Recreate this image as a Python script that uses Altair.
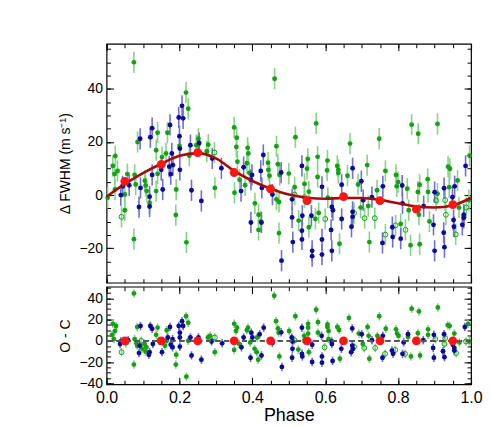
import altair as alt
import pandas as pd

FONT = "Liberation Sans"

# ---------------- top panel: Delta FWHM vs phase ----------------
top_green = [
    (0.003, -1.0), (0.017, 11.0), (0.024, 14.7), (0.030, 9.1), (0.022, 7.9), (0.023, 2.1),
    (0.057, 7.9), (0.077, 7.6), (0.080, 4.0), (0.050, 0.2), (0.050, -5.7), (0.075, 50.0),
    (0.075, -16.6), (0.085, 20.0), (0.105, 5.4), (0.107, 3.6), (0.110, 1.5), (0.118, -3.0),
    (0.136, 16.9), (0.140, 23.5), (0.136, 1.5), (0.140, 8.0), (0.152, 14.3), (0.163, 15.7),
    (0.167, 23.5), (0.191, 2.1), (0.190, -7.5), (0.200, 18.5), (0.218, 38.6), (0.224, 32.5),
    (0.219, -17.8), (0.227, 14.8), (0.246, 18.8), (0.252, 21.2), (0.251, 18.8), (0.279, 19.0),
    (0.275, 16.5), (0.297, 2.7), (0.350, 25.5), (0.357, 21.6), (0.356, 18.1), (0.359, 12.6),
    (0.351, 0.9), (0.365, 5.8), (0.380, 3.7), (0.387, 17.8), (0.389, 15.7), (0.385, 12.0),
    (0.392, 8.3), (0.407, -3.1), (0.417, -7.4), (0.417, -13.1), (0.423, -10.0), (0.443, 12.2),
    (0.444, 9.5), (0.447, 7.3), (0.461, 43.8), (0.466, 18.4), (0.470, 11.6), (0.475, 7.6),
    (0.466, -1.6), (0.473, -2.6), (0.473, -14.3), (0.500, 8.1), (0.516, 3.0), (0.518, 21.8),
    (0.527, -9.6), (0.543, 4.2), (0.550, 9.9), (0.552, 13.6), (0.555, 1.3), (0.555, -12.1),
    (0.573, -9.0), (0.575, 27.0), (0.579, 14.4), (0.579, 6.8), (0.582, -6.7), (0.605, 9.3),
    (0.606, 13.0), (0.607, -1.0), (0.633, 11.0), (0.636, 9.5), (0.636, 8.3), (0.639, -18.3),
    (0.661, 7.3), (0.668, 19.4), (0.690, 4.0), (0.697, -4.7), (0.715, 11.3), (0.718, -4.1),
    (0.721, -17.7), (0.742, 1.8), (0.748, 21.2), (0.765, 9.1), (0.794, 7.6), (0.800, 4.9),
    (0.796, 3.3), (0.807, -10.9), (0.825, 2.4), (0.829, -5.7), (0.834, -18.9), (0.837, 26.5),
    (0.855, 23.1), (0.859, 3.9), (0.854, 1.2), (0.857, -7.4), (0.859, -18.5), (0.881, 6.0),
    (0.882, 1.2), (0.886, -9.9), (0.908, 26.8), (0.908, 0.5), (0.937, 10.7), (0.942, 9.9),
    (0.940, 3.0), (0.963, 5.5), (0.967, -4.7), (0.996, 14.8), (0.994, -1.9),
]
top_open = [
    (0.041, -8.2), (0.296, 16.0), (0.516, 0.2), (0.543, -0.8), (0.600, -9.0), (0.679, -6.8),
    (0.708, -8.7), (0.736, -8.7), (0.765, -14.9), (0.793, -11.4), (0.820, -13.1), (0.904, -2.0),
    (0.929, -1.9), (0.931, -7.4), (0.958, -14.8), (0.987, -4.7),
]
top_blue = [
    (0.039, 0.0), (0.044, 3.3), (0.062, 3.7), (0.092, 21.2), (0.089, -4.5), (0.093, 2.7),
    (0.120, 21.8), (0.125, 25.2), (0.118, -0.6), (0.118, -4.3), (0.125, 7.6), (0.154, 2.1),
    (0.150, 9.5), (0.172, 10.7), (0.174, 26.4), (0.179, 15.7), (0.176, 7.9), (0.182, 11.3),
    (0.198, 29.2), (0.207, 33.6), (0.210, 28.9), (0.200, 22.2), (0.201, 17.5), (0.201, 9.5),
    (0.233, 1.8), (0.230, 18.8), (0.254, 19.6), (0.260, -2.2), (0.290, 13.8), (0.315, 10.1),
    (0.376, 10.5), (0.396, 5.8), (0.399, 7.6), (0.369, 1.5), (0.396, -10.3), (0.425, -10.3),
    (0.430, 15.1), (0.423, 9.1), (0.426, 2.7), (0.455, 0.2), (0.479, 8.5), (0.480, -24.7),
    (0.509, -1.6), (0.509, -8.4), (0.511, -17.7), (0.536, 11.0), (0.537, -7.8), (0.536, -13.4),
    (0.536, -16.7), (0.562, -7.8), (0.564, -21.0), (0.564, -23.0), (0.591, 3.1), (0.591, -16.7),
    (0.591, -22.4), (0.618, -4.5), (0.621, -5.7), (0.616, -13.1), (0.618, -21.0), (0.645, 3.9),
    (0.645, -9.0), (0.675, 10.1), (0.675, -6.3), (0.675, -8.2), (0.672, -11.9), (0.699, 5.2),
    (0.704, -1.9), (0.728, -0.8), (0.758, 3.3), (0.757, -18.0), (0.784, -12.1), (0.785, -15.8),
    (0.807, -16.4), (0.811, 3.6), (0.812, -3.1), (0.870, -4.2), (0.900, 1.1), (0.897, -11.2),
    (0.900, -21.0), (0.925, -14.2), (0.926, 2.6), (0.927, -19.6), (0.952, -9.4), (0.953, -11.9),
    (0.955, 3.3), (0.949, -0.8), (0.976, -11.2), (0.980, -7.4), (0.980, -8.6), (0.985, 11.0),
]
bin_phase = [0.05, 0.15, 0.25, 0.35, 0.45, 0.55, 0.65, 0.75, 0.85, 0.95]
bin_val = [5.2, 11.6, 16.0, 8.5, 2.3, -2.1, -0.6, -2.1, -5.3, -3.6]
bin_res = [0, 0, 0, 0, 0, 0, 0, 0, 0, 0]
model_phase = [0.0, 0.05, 0.10, 0.15, 0.20, 0.25, 0.30, 0.35, 0.40, 0.45, 0.50,
               0.55, 0.60, 0.65, 0.70, 0.75, 0.80, 0.85, 0.90, 0.95, 1.0]
model_val = [-0.6, 4.2, 8.3, 11.8, 14.8, 15.8, 13.8, 9.1, 5.3, 2.4, 0.2,
             -1.0, -1.4, -1.1, -1.1, -1.8, -3.1, -4.3, -4.7, -3.9, -1.0]

# ---------------- bottom panel: O - C residuals ----------------
res_green = [
    (0.075, 44.7), (0.017, 16.0), (0.026, 13.9), (0.023, 9.3), (0.015, 5.6), (0.020, 1.6),
    (0.053, -2.4), (0.075, -22.4), (0.077, 1.6), (0.082, -2.4), (0.084, 13.0), (0.084, -4.6),
    (0.098, -7.6), (0.104, -3.0), (0.109, -6.1), (0.107, -10.1), (0.136, 5.6), (0.140, 12.4),
    (0.143, 0.0), (0.165, 0.0), (0.160, -4.6), (0.165, 9.9), (0.191, -13.2), (0.190, -22.4),
    (0.218, 23.1), (0.224, 17.0), (0.219, -33.8), (0.224, 0.0), (0.278, 3.1), (0.284, 4.7),
    (0.297, -10.7), (0.460, 42.5), (0.350, 16.0), (0.358, 12.4), (0.355, 9.3), (0.350, -8.6),
    (0.364, -3.0), (0.385, 9.9), (0.388, 12.4), (0.394, -1.5), (0.406, -7.6), (0.412, -10.7),
    (0.416, -17.8), (0.413, 3.1), (0.465, 18.5), (0.470, 11.7), (0.472, 7.7), (0.474, -14.7),
    (0.501, 9.3), (0.518, 23.1), (0.526, -8.3), (0.542, 4.7), (0.553, 16.0), (0.553, 12.4),
    (0.553, 6.8), (0.555, -10.7), (0.575, 29.3), (0.580, 17.6), (0.580, 7.7), (0.606, 15.4),
    (0.606, 13.0), (0.609, 9.3), (0.609, 1.6), (0.633, 13.0), (0.638, 10.2), (0.640, -16.9),
    (0.665, 21.6), (0.692, 6.8), (0.703, -3.0), (0.716, 13.0), (0.719, 4.7), (0.721, -16.9),
    (0.748, 23.1), (0.743, 4.7), (0.766, 11.4), (0.794, 10.8), (0.797, 6.8), (0.801, 4.7),
    (0.827, 3.7), (0.835, -14.7), (0.837, 30.2), (0.857, 27.7), (0.854, 7.1), (0.860, -13.8),
    (0.882, 10.8), (0.882, 5.6), (0.909, 31.4), (0.936, 14.8), (0.941, 13.9), (0.954, 6.8),
    (0.968, -1.5), (0.992, 16.0), (0.995, -0.6),
]
res_open = [
    (0.041, -10.7), (0.095, 0.0), (0.297, 3.1), (0.516, 0.5), (0.543, 0.2), (0.598, -6.1),
    (0.679, -5.7), (0.707, -6.7), (0.737, -6.7), (0.764, -12.3), (0.792, -8.6), (0.819, -12.3),
    (0.902, 1.6), (0.929, 2.5), (0.927, -3.0), (0.959, -11.6), (0.986, -0.6),
]
res_blue = [
    (0.039, -0.6), (0.037, -3.0), (0.059, 0.6), (0.093, 13.9), (0.091, -4.6), (0.089, -11.6),
    (0.120, 13.9), (0.125, 11.4), (0.118, -10.7), (0.116, -13.2), (0.127, -3.0), (0.152, -10.7),
    (0.154, -0.6), (0.168, 3.1), (0.174, 13.0), (0.176, -3.7), (0.181, 1.6), (0.181, -6.1),
    (0.198, 13.9), (0.207, 18.5), (0.210, 13.9), (0.201, 7.7), (0.201, 3.1), (0.201, -5.5),
    (0.230, 3.1), (0.252, 3.1), (0.233, -13.8), (0.260, -17.8), (0.288, -0.6), (0.317, -2.4),
    (0.376, 3.1), (0.370, -6.1), (0.397, 7.7), (0.400, 3.1), (0.420, 6.2), (0.425, -13.8),
    (0.395, -16.0), (0.431, 12.4), (0.455, -2.0), (0.479, 8.0), (0.481, -24.6), (0.508, 3.1),
    (0.510, -0.6), (0.510, -7.6), (0.509, -16.0), (0.536, 12.4), (0.536, -12.3), (0.537, -14.7),
    (0.564, -20.0), (0.564, -3.7), (0.590, 4.7), (0.591, -14.7), (0.591, -20.6), (0.618, -0.6),
    (0.618, -3.0), (0.620, -19.0), (0.644, -7.6), (0.674, 11.7), (0.674, -4.6), (0.676, -7.6),
    (0.671, -10.7), (0.700, 6.2), (0.728, 0.6), (0.758, 4.7), (0.757, -16.0), (0.783, -9.2),
    (0.786, -12.3), (0.812, -12.3), (0.815, -1.5), (0.827, 6.2), (0.869, 0.6), (0.898, 5.6),
    (0.896, -6.7), (0.898, -16.0), (0.926, 6.2), (0.923, -9.8), (0.927, -15.4), (0.954, -6.7),
    (0.954, -9.2), (0.950, -3.7), (0.983, 13.0),
]
err_green = 4.0
err_blue = 4.0

x_major = [0.0, 0.2, 0.4, 0.6, 0.8, 1.0]
x_minor = [0.0, 0.05, 0.1, 0.15, 0.2, 0.25, 0.3, 0.35, 0.4, 0.45, 0.5,
           0.55, 0.6, 0.65, 0.7, 0.75, 0.8, 0.85, 0.9, 0.95, 1.0]
top_y_major = [-20, 0, 20, 40]
top_y_minor = [-30, -25, -20, -15, -10, -5, 0, 5, 10, 15, 20, 25, 30, 35, 40, 45, 50, 55]
bot_y_major = [-40, -20, 0, 20, 40]
bot_y_minor = [-40, -35, -30, -25, -20, -15, -10, -5, 0, 5, 10, 15, 20, 25, 30, 35, 40, 45, 50]

GREEN = "#17a017"
GREEN_ERR = "#86d486"
BLUE = "#0b0b95"
BLUE_ERR = "#6f6fd6"
RED = "#ff1414"
DARKRED = "#a50a0a"

PLOT_W = 366


def frame(pairs, err):
    df = pd.DataFrame(pairs, columns=["phase", "val"])
    df["lo"] = df["val"] - err
    df["hi"] = df["val"] + err
    return df


def make_axis(orient, values, size, labels=False, title=None, fmt=None,
              label_pad=4, label_size=14, title_size=14, title_pad=6):
    d = dict(orient=orient, values=values, tickSize=size, offset=-size, domain=False,
             grid=False, ticks=True, tickColor="black", tickWidth=1, labels=labels, title=title)
    if labels:
        d.update(format=fmt, labelFont=FONT, labelFontSize=label_size, labelColor="black",
                 labelPadding=label_pad, labelFlush=False, labelOverlap=False)
    if title:
        d.update(titleFont=FONT, titleFontSize=title_size, titleFontWeight="normal",
                 titleColor="black", titlePadding=title_pad)
    return alt.Axis(**d)


def panel(green, opened, blue, bins_df, line_df, ydom, height, ymaj, ymin, ytitle, bottom):
    xs = alt.Scale(domain=[0, 1], nice=False, zero=False)
    ys = alt.Scale(domain=ydom, nice=False, zero=False)

    def X(ax):
        return alt.X("phase:Q", scale=xs, axis=ax)

    def Y(field, ax):
        return alt.Y(field + ":Q", scale=ys, axis=ax)

    gdf = pd.concat([frame(green, err_green), frame(opened, err_green)], ignore_index=True)
    bdf = frame(blue, err_blue)
    odf = frame(opened, err_green)
    fdf = frame(green, err_green)

    if bottom:
        ax_b_major = make_axis("bottom", x_major, 7, labels=True, title="Phase", fmt=".1f",
                               label_pad=5, label_size=16, title_size=18, title_pad=1)
    else:
        ax_b_major = make_axis("bottom", x_major, 7)
    ax_b_minor = make_axis("bottom", x_minor, 4)
    ax_t_major = make_axis("top", x_major, 7)
    ax_t_minor = make_axis("top", x_minor, 4)
    ax_l_major = make_axis("left", ymaj, 7, labels=True, title=ytitle, fmt="d",
                           label_pad=4, label_size=14, title_size=14, title_pad=6)
    ax_l_minor = make_axis("left", ymin, 4)
    ax_r_major = make_axis("right", ymaj, 7)
    ax_r_minor = make_axis("right", ymin, 4)

    err_g = alt.Chart(gdf).mark_rule(color=GREEN_ERR, strokeWidth=1.6).encode(
        x=X(ax_b_major), y=Y("lo", ax_l_major), y2="hi")
    err_b = alt.Chart(bdf).mark_rule(color=BLUE_ERR, strokeWidth=1.6).encode(
        x=X(ax_b_minor), y=Y("lo", ax_l_minor), y2="hi")
    pts_g = alt.Chart(fdf).mark_circle(color=GREEN, size=24, opacity=1).encode(
        x=X(ax_t_major), y=Y("val", ax_r_major))
    pts_b = alt.Chart(bdf).mark_circle(color=BLUE, size=24, opacity=1).encode(
        x=X(ax_t_minor), y=Y("val", ax_r_minor))
    pts_o = alt.Chart(odf).mark_point(color=GREEN, size=24, strokeWidth=1, filled=False,
                                      opacity=1).encode(
        x=X(None), y=Y("val", None))
    layers = [err_g, err_b, pts_o, pts_g, pts_b]
    if line_df is not None:
        layers.append(alt.Chart(line_df).mark_line(color=DARKRED, strokeWidth=2.6,
                                                   interpolate="monotone").encode(
            x=X(None), y=Y("val", None)))
    else:
        layers.append(alt.Chart(bins_df).mark_rule(color="#555555", strokeWidth=1,
                                                   strokeDash=[5, 4]).encode(
            y=Y("zero", None)))
    layers.append(alt.Chart(bins_df).mark_circle(color=RED, size=78, opacity=1).encode(
        x=X(None), y=Y("val", None)))

    return alt.layer(*layers).resolve_axis(x="independent", y="independent").properties(
        width=PLOT_W, height=height)


bins_top = pd.DataFrame({"phase": bin_phase, "val": bin_val})
bins_bot = pd.DataFrame({"phase": bin_phase, "val": bin_res, "zero": bin_res})
model_df = pd.DataFrame({"phase": model_phase, "val": model_val})

top = panel(top_green, top_open, top_blue, bins_top, model_df, [-33, 57], 240,
            top_y_major, top_y_minor, "\u0394 FWHM (m s\u207b\u00b9)", False)
bot = panel(res_green, res_open, res_blue, bins_bot, None, [-41, 51], 98,
            bot_y_major, bot_y_minor, "O - C", True)

chart = alt.vconcat(top, bot, spacing=0).properties(
    padding={"left": 50, "top": 33, "right": 0, "bottom": 0}
).configure_view(stroke="black", strokeWidth=1.2)

chart.save("out.html", embed_options={"renderer": "svg", "actions": False})
